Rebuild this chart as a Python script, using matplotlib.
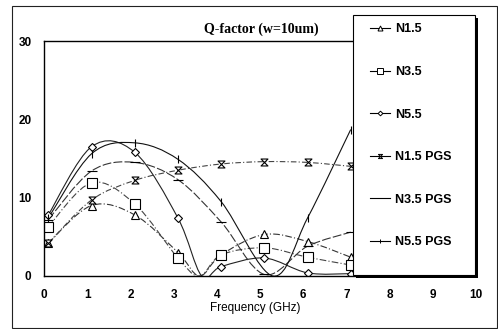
import numpy as np
import matplotlib
matplotlib.use("Agg")
import matplotlib.pyplot as plt
from matplotlib.path import Path
from matplotlib.patches import PathPatch, Rectangle
from matplotlib.lines import Line2D

# measured frequencies (GHz); 3.6 / 5.3 are the dips that sit on the axis
freq = [0.1, 1.1, 2.1, 3.1, 4.1, 5.1, 6.1, 7.1]

n15_x = [0.1, 1.1, 2.1, 3.1, 3.6, 4.1, 5.1, 6.1, 7.1]
n15_y = [4.2, 9.0, 7.8, 3.0, 0.0, 2.7, 5.3, 4.4, 2.4]

n35_x = [0.1, 1.1, 2.1, 3.1, 3.6, 4.1, 5.1, 6.1, 7.1]
n35_y = [6.3, 11.9, 9.2, 2.3, 0.0, 2.7, 3.6, 2.4, 1.4]

n55_x = [0.1, 1.1, 2.1, 3.1, 3.65, 4.1, 5.1, 6.1, 7.1]
n55_y = [7.8, 16.5, 15.8, 7.4, 0.0, 1.2, 2.3, 0.4, 0.3]

n15pgs_x = [0.1, 1.1, 2.1, 3.1, 4.1, 5.1, 6.1, 7.1]
n15pgs_y = [4.2, 9.7, 12.2, 13.5, 14.3, 14.6, 14.5, 14.0]

n35pgs_x = [0.1, 1.1, 2.1, 3.1, 4.1, 5.1, 6.1, 7.1]
n35pgs_y = [7.2, 13.4, 14.5, 12.3, 6.9, 0.2, 3.8, 5.6]

n55pgs_x = [0.1, 1.1, 2.1, 3.1, 4.1, 5.3, 6.1, 7.1]
n55pgs_y = [7.4, 15.6, 17.0, 14.9, 9.5, 0.0, 7.4, 18.7]

labels = ["N1.5", "N3.5", "N5.5", "N1.5 PGS", "N3.5 PGS", "N5.5 PGS"]

# hourglass marker
hg = Path([(-1, 1), (1, 1), (-1, -1), (1, -1), (-1, 1)],
          [Path.MOVETO, Path.LINETO, Path.LINETO, Path.LINETO, Path.CLOSEPOLY])

styles = [
    dict(marker="^", ms=6, ls=(0, (6, 2, 1, 2)), color="#333333"),
    dict(marker="s", ms=7, ls=(0, (6, 2, 1, 2)), color="#444444"),
    dict(marker="D", ms=4, ls="-", color="#222222"),
    dict(marker=hg, ms=5, ls=(0, (5, 2, 1, 2)), color="#444444"),
    dict(marker="_", ms=7, ls=(0, (8, 2)), color="#333333"),
    dict(marker="|", ms=6, ls="-", color="#111111"),
]

series = [(n15_x, n15_y), (n35_x, n35_y), (n55_x, n55_y),
          (n15pgs_x, n15pgs_y), (n35pgs_x, n35pgs_y), (n55pgs_x, n55pgs_y)]


def smooth_path(x, y):
    # excel style smoothed line, bezier through every point
    p = np.column_stack([x, y]).astype(float)
    verts = [p[0]]
    codes = [Path.MOVETO]
    n = len(p)
    for i in range(n - 1):
        p0 = p[i - 1] if i > 0 else p[i]
        p3 = p[i + 2] if i + 2 < n else p[i + 1]
        c1 = p[i] + (p[i + 1] - p0) / 6.0
        c2 = p[i + 1] - (p3 - p[i]) / 6.0
        verts += [c1, c2, p[i + 1]]
        codes += [Path.CURVE4] * 3
    return Path(verts, codes)


fig = plt.figure(figsize=(4.98, 3.29), dpi=100)
ax = fig.add_axes([44 / 498, 1 - 276 / 329, 432 / 498, 235 / 329])

for (x, y), st in zip(series, styles):
    ax.add_patch(PathPatch(smooth_path(x, y), fill=False, lw=0.8,
                           ls=st["ls"], edgecolor=st["color"]))
    keep = [i for i, v in enumerate(x) if v in freq]
    ax.plot([x[i] for i in keep], [y[i] for i in keep], linestyle="none",
            marker=st["marker"], ms=st["ms"], mfc="white", mec="black",
            mew=0.8)

ax.set_xlim(0, 10)
ax.set_ylim(0, 30)
ax.set_xticks(range(0, 11))
ax.set_yticks([0, 10, 20, 30])
ax.tick_params(length=0, pad=9)
for t in ax.get_xticklabels() + ax.get_yticklabels():
    t.set_fontfamily("Liberation Sans")
    t.set_fontweight("bold")
    t.set_fontsize(8.5)
ax.spines["right"].set_visible(False)
for s in ["left", "top", "bottom"]:
    ax.spines[s].set_linewidth(1.0)
ax.set_xlabel("Frequency (GHz)", family="Liberation Sans", fontsize=8.5,
              labelpad=4)
ax.xaxis.set_label_coords(0.49, -0.11)

fig.text(261 / 498, 1 - 29 / 329, "Q-factor (w=10um)", ha="center",
         va="center", family="Liberation Serif", weight="bold", fontsize=10)

# legend box with shadow
tr = fig.transFigure
ax.add_patch(Rectangle((356 / 498, 1 - 278 / 329), 122 / 498, 260 / 329,
                       transform=tr, facecolor="black", edgecolor="none",
                       clip_on=False, zorder=9))
ax.add_patch(Rectangle((353 / 498, 1 - 275 / 329), 122 / 498, 260 / 329,
                       transform=tr, facecolor="white", edgecolor="black",
                       lw=0.8, clip_on=False, zorder=10))

handles = [Line2D([], [], color="black", lw=0.8, marker=st["marker"],
                  ms=st["ms"] * 0.6, mfc="white", mec="black", mew=0.7)
           for st in styles]
leg = ax.legend(handles, labels, loc="upper left",
                bbox_to_anchor=(359 / 498, 1 - 12 / 329),
                bbox_transform=tr, frameon=False, handlelength=1.6,
                handletextpad=0.4, labelspacing=2.45,
                prop={"family": "Liberation Sans", "weight": "bold",
                      "size": 9})
leg.set_zorder(11)

# outer chart border
fig.patches.append(Rectangle((12 / 498, 1 - 328 / 329), 485 / 498,
                             322 / 329, transform=tr, fill=False,
                             edgecolor="#222222", lw=0.8))

fig.savefig("out.png", dpi=100)
